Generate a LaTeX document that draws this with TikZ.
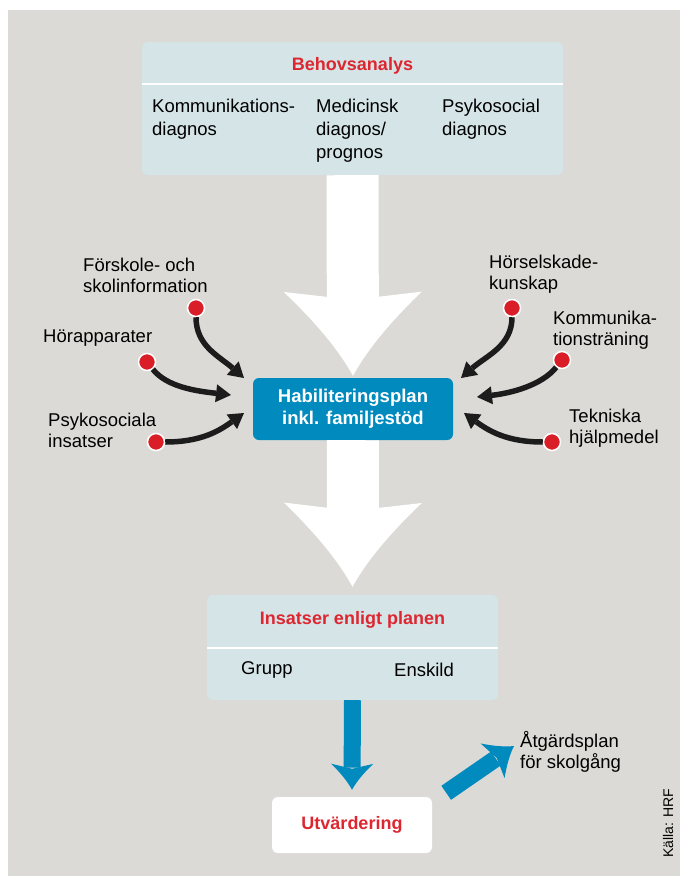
\documentclass[tikz,border=0pt]{standalone}
\usepackage{fontspec}
\setmainfont{Liberation Sans}
\usepackage{tikz}
\usetikzlibrary{shapes.geometric, arrows.meta, positioning}
\definecolor{bggray}{RGB}{219,218,214}
\definecolor{panel}{RGB}{212,228,231}
\definecolor{habblue}{RGB}{0,138,190}
\definecolor{titlered}{RGB}{222,38,48}
\definecolor{dotred}{RGB}{218,30,40}
\definecolor{arrowblack}{RGB}{28,28,28}

% arrow head with hollow (curved) sides
\pgfdeclarearrow{
    name=Fathead,
    parameters={\the\pgfarrowlength,\the\pgfarrowwidth,\the\pgfarrowinset},
    setup code={
        \pgfarrowssettipend{0pt}
        \pgfarrowssetbackend{-\pgfarrowlength}
        \pgfarrowssetlineend{-0.85\pgfarrowlength}
        \pgfarrowshullpoint{0pt}{0pt}
        \pgfarrowshullpoint{-\pgfarrowlength}{0.5\pgfarrowwidth}
        \pgfarrowshullpoint{-\pgfarrowlength}{-0.5\pgfarrowwidth}
        \pgfarrowssavethe\pgfarrowlength
        \pgfarrowssavethe\pgfarrowwidth
        \pgfarrowssavethe\pgfarrowinset
    },
    drawing code={
        \pgfpathmoveto{\pgfqpoint{0pt}{0pt}}
        \pgfpathcurveto{\pgfqpoint{-0.33\pgfarrowlength}{0.11\pgfarrowwidth}}{\pgfqpoint{-0.67\pgfarrowlength}{0.29\pgfarrowwidth}}{\pgfqpoint{-\pgfarrowlength}{0.5\pgfarrowwidth}}
        \pgfpathlineto{\pgfpointadd{\pgfqpoint{-\pgfarrowlength}{0pt}}{\pgfqpoint{\pgfarrowinset}{0pt}}}
        \pgfpathlineto{\pgfqpoint{-\pgfarrowlength}{-0.5\pgfarrowwidth}}
        \pgfpathcurveto{\pgfqpoint{-0.67\pgfarrowlength}{-0.29\pgfarrowwidth}}{\pgfqpoint{-0.33\pgfarrowlength}{-0.11\pgfarrowwidth}}{\pgfqpoint{0pt}{0pt}}
        \pgfpathclose
        \pgfusepathqfill
    },
    defaults={length=10pt, width=10pt, inset=2pt}
}

\tikzset{
    panelbox/.style={fill=panel, rounded corners=6pt, inner sep=0pt},
    redtitle/.style={text=titlered, font=\fontsize{18}{22}\selectfont\bfseries},
    bodytext/.style={align=left, inner sep=0pt, font=\fontsize{18.5}{23}\selectfont},
    sidetext/.style={align=left, inner sep=0pt, font=\fontsize{18.5}{21}\selectfont},
    reddot/.style={circle, fill=dotred, draw=white, line width=1.5pt, minimum size=17pt, inner sep=0pt},
    feeder/.style={arrowblack, line width=5.5pt, -{Triangle[length=15pt, width=18pt, line width=0pt]}},
    bigarrow/.style={white, line width=52pt, -{Fathead[length=84pt, width=138pt, inset=8pt]}},
    bluearrow/.style={habblue, line width=17pt, -{Fathead[length=26pt, width=42pt, inset=5pt]}}
}

\begin{document}
\begin{tikzpicture}[x=1pt, y=-1pt]
    \useasboundingbox (0,0) rectangle (680,876);
    \fill[bggray] (8,10) rectangle (680,876);

    % Behovsanalys
    \node[panelbox, minimum width=421pt, minimum height=133pt] (beh) at (352.5,108.5) {};
    \node[redtitle] (behtitle) at (352.5,66) {Behovsanalys};
    \draw[white, line width=1.5pt] (beh.west |- 0,84) -- (beh.east |- 0,84);
    \node[bodytext, anchor=north west] (komdiag) at (152,99) {Kommunikations-\\diagnos};
    \node[bodytext, anchor=north west] (meddiag) at (316,99) {Medicinsk\\diagnos/\\prognos};
    \node[bodytext, anchor=north west] (psydiag) at (442,99) {Psykosocial\\diagnos};

    % Habiliteringsplan
    \node[fill=habblue, rounded corners=6pt, minimum width=200pt, minimum height=62pt, text=white, align=center,
          font=\fontsize{18.5}{22}\selectfont\bfseries] (hab) at (353,409) {Habiliteringsplan\\inkl. familjestöd};

    \draw[bigarrow] (beh.south) -- ([yshift=2pt]hab.north);

    % Insatser
    \node[panelbox, minimum width=291pt, minimum height=105pt] (ins) at (352.5,647.5) {};
    \node[redtitle] (institle) at (352.5,620) {Insatser enligt planen};
    \draw[white, line width=1.5pt] (ins.west |- 0,648) -- (ins.east |- 0,648);
    \node[bodytext, anchor=west] (grupp) at (241,670) {Grupp};
    \node[bodytext, anchor=west] (enskild) at (394,670) {Enskild};

    \draw[bigarrow] (hab.south) -- ([yshift=8pt]ins.north);

    % Utvärdering
    \node[fill=white, rounded corners=6pt, minimum width=160pt, minimum height=56pt, redtitle] (utv) at (352,825) {Utvärdering};
    \node[sidetext, anchor=west] (atg) at (520,752) {Åtgärdsplan\\för skolgång};
    \coordinate (utvout) at ([shift={(14pt,4pt)}]utv.north east);
    \coordinate (atgin) at (514,746);

    \draw[bluearrow] (ins.south) -- ([yshift=7pt]utv.north);
    \draw[bluearrow] (utvout) -- (atgin);

    % left side
    \node[sidetext, anchor=west] (forskole) at (83,275) {Förskole- och\\skolinformation};
    \node[sidetext, anchor=west] (horapp) at (43,338) {Hörapparater};
    \node[sidetext, anchor=west] (psyins) at (48,430) {Psykosociala\\insatser};
    \node[reddot] (d1) at (196,308) {};
    \node[reddot] (d2) at (147,362) {};
    \node[reddot] (d3) at (156,442) {};
    \coordinate (e1) at (244,378);
    \coordinate (e2) at (231,395);
    \coordinate (e3) at (244,413);
    \draw[feeder] (d1) .. controls +(0,38) and +(-25,-22) .. (e1);
    \draw[feeder] (d2) .. controls +(20,25) and +(-35,-4) .. (e2);
    \draw[feeder] (d3) .. controls +(45,0) and +(-25,18) .. (e3);

    % right side
    \node[sidetext, anchor=west] (horsel) at (489,274) {Hörselskade-\\kunskap};
    \node[sidetext, anchor=west] (komtr) at (553,330) {Kommunika-\\tionsträning};
    \node[sidetext, anchor=west] (tekn) at (569,428) {Tekniska\\hjälpmedel};
    \node[reddot] (d4) at (512,308) {};
    \node[reddot] (d5) at (562,360) {};
    \node[reddot] (d6) at (552,442) {};
    \coordinate (e4) at (461,378);
    \coordinate (e5) at (477,397);
    \coordinate (e6) at (464,413);
    \draw[feeder] (d4) .. controls +(0,38) and +(25,-22) .. (e4);
    \draw[feeder] (d5) .. controls +(-20,25) and +(35,-4) .. (e5);
    \draw[feeder] (d6) .. controls +(-45,0) and +(25,18) .. (e6);

    \node[rotate=90, font=\fontsize{14}{16}\selectfont] (kalla) at (668,823) {Källa: HRF};
\end{tikzpicture}
\end{document}
